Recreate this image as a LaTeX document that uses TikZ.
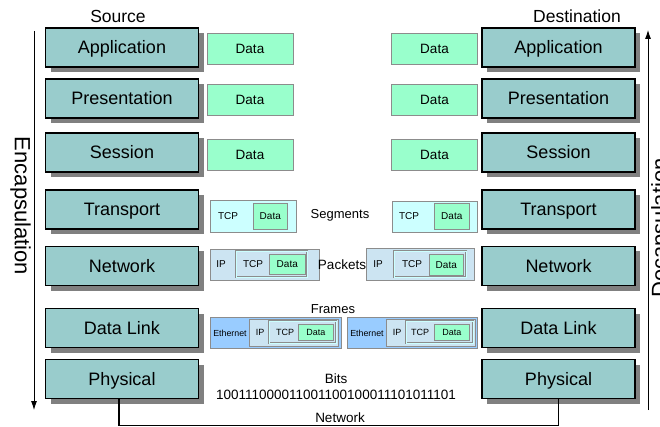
\documentclass[tikz,border=0pt]{standalone}
\usepackage{fontspec}
\setmainfont{Liberation Sans}
\usetikzlibrary{shadows,arrows.meta}
\definecolor{layerfill}{HTML}{99CCCC}
\definecolor{datafill}{HTML}{99FFCC}
\definecolor{segfill}{HTML}{CCFFFF}
\definecolor{pktfill}{HTML}{CCE4F2}
\definecolor{framefill}{HTML}{99CCFF}
\definecolor{bordergray}{HTML}{8C8C8C}
\definecolor{shadowgray}{HTML}{808080}
\newcommand{\fsz}[1]{\fontsize{#1}{#1}\selectfont}
\tikzset{
  layer/.style={draw=black, line width=1.1pt, fill=layerfill, minimum width=153, minimum height=39,
    inner sep=0pt, font=\fsz{18}, text height=13pt, text depth=0pt,
    drop shadow={shadow xshift=5pt, shadow yshift=-5pt, fill=shadowgray, opacity=1}},
  databox/.style={draw=bordergray, line width=0.7pt, fill=datafill, minimum width=86, minimum height=31,
    inner sep=0pt, font=\fsz{13.5}, text height=9.7pt, text depth=0pt},
  pbox/.style={draw=bordergray, line width=0.6pt, inner sep=0pt, anchor=north west},
  dbl/.style={pbox, line width=0.5pt, double=segfill, double distance=0.9pt},
  lbl/.style={inner sep=0pt, font=\fsz{#1}},
  lbl/.default=10,
  arr/.style={line width=0.8pt, -{Latex[length=9pt,width=6pt]}},
  netwire/.style={line width=1.2pt},
  side/.style={inner sep=0pt, font=\fsz{22}, text height=16pt, text depth=4pt},
}
\begin{document}
\begin{tikzpicture}[x=1pt,y=-1pt]
\useasboundingbox (0,0) rectangle (660,427);
% titles
\node[lbl=17.5] (src) at (118,16) {Source};
\node[lbl=17.5] (dst) at (577,16) {Destination};
% left layers
\node[layer] (lapp) at (122,47.5) {Application};
\node[layer] (lpre) at (122,98.5) {Presentation};
\node[layer] (lses) at (122,152.5) {Session};
\node[layer] (ltra) at (122,209.5) {Transport};
\node[layer] (lnet) at (122,266) {Network};
\node[layer] (ldl) at (122,328) {Data Link};
\node[layer] (lphy) at (122,379) {Physical};
% right layers
\node[layer] (rapp) at (558.5,47.5) {Application};
\node[layer] (rpre) at (558.5,98.5) {Presentation};
\node[layer] (rses) at (558.5,152.5) {Session};
\node[layer] (rtra) at (558.5,209.5) {Transport};
\node[layer] (rnet) at (558.5,266) {Network};
\node[layer] (rdl) at (558.5,328) {Data Link};
\node[layer] (rphy) at (558.5,379) {Physical};
% data boxes
\node[databox] (ld1) at (250,48.5) {Data};
\node[databox] (ld2) at (250,100) {Data};
\node[databox] (ld3) at (250,154.5) {Data};
\node[databox] (rd1) at (434.5,48.5) {Data};
\node[databox] (rd2) at (434.5,100) {Data};
\node[databox] (rd3) at (434.5,154.5) {Data};
% segments
\node[pbox, fill=segfill, minimum width=86, minimum height=32] (lseg) at (210,200) {};
\node[lbl] (lsegtcp) at (228,216) {TCP};
\node[pbox, fill=datafill, minimum width=34, minimum height=26] (lsegd) at (253,203) {};
\node[lbl] (lsegdt) at (lsegd.center) {Data};
\node[pbox, fill=segfill, minimum width=85, minimum height=31] (rseg) at (392,201) {};
\node[lbl] (rsegtcp) at (409,216.5) {TCP};
\node[pbox, fill=datafill, minimum width=35, minimum height=26] (rsegd) at (434,203) {};
\node[lbl] (rsegdt) at (rsegd.center) {Data};
\node[lbl=13] (seglbl) at (340,215) {Segments};
% packets
\node[pbox, fill=pktfill, minimum width=109, minimum height=31] (lpkt) at (210,249) {};
\node[lbl] (lpktip) at (221,264.5) {IP};
\node[dbl, minimum width=71, minimum height=26] (lpkttcp) at (236,251) {};
\node[lbl] (lpkttcpt) at (253,264) {TCP};
\node[pbox, fill=datafill, minimum width=36, minimum height=20] (lpktd) at (269,254) {};
\node[lbl] (lpktdt) at (lpktd.center) {Data};
\node[pbox, fill=pktfill, minimum width=108, minimum height=32] (rpkt) at (366,248) {};
\node[lbl] (rpktip) at (378,264) {IP};
\node[dbl, minimum width=72, minimum height=26] (rpkttcp) at (394,251) {};
\node[lbl] (rpkttcpt) at (412,264) {TCP};
\node[pbox, fill=datafill, minimum width=34, minimum height=21] (rpktd) at (429,254) {};
\node[lbl] (rpktdt) at (rpktd.center) {Data};
\node[lbl=13.5] (pktlbl) at (342,265) {Packets};
% frames
\node[lbl=13] (frmlbl) at (333,309) {Frames};
\node[pbox, fill=framefill, minimum width=131, minimum height=31] (lfrm) at (210,317) {};
\node[lbl=8.8] (lfrmeth) at (230,333) {Ethernet};
\node[pbox, fill=pktfill, minimum width=89, minimum height=27] (lfrmip) at (249,319) {};
\node[lbl=9] (lfrmipt) at (260,332) {IP};
\node[dbl, minimum width=67, minimum height=22] (lfrmtcp) at (269,321) {};
\node[lbl=9] (lfrmtcpt) at (285,332) {TCP};
\node[pbox, fill=datafill, minimum width=35, minimum height=16] (lfrmd) at (298,324) {};
\node[lbl=9] (lfrmdt) at (lfrmd.center) {Data};
\node[pbox, fill=framefill, minimum width=130, minimum height=31] (rfrm) at (347,317) {};
\node[lbl=8.8] (rfrmeth) at (367,333) {Ethernet};
\node[pbox, fill=pktfill, minimum width=89, minimum height=27] (rfrmip) at (386,319) {};
\node[lbl=9] (rfrmipt) at (397,332) {IP};
\node[dbl, minimum width=67, minimum height=22] (rfrmtcp) at (406,321) {};
\node[lbl=9] (rfrmtcpt) at (420,332) {TCP};
\node[pbox, fill=datafill, minimum width=35, minimum height=16] (rfrmd) at (434,324) {};
\node[lbl=9] (rfrmdt) at (rfrmd.center) {Data};
% bits
\node[lbl=13.5] (bitslbl) at (336,379) {Bits};
\node[lbl=13.5] (bits) at (336,395) {100111000011001100100011101011101};
% network wire
\coordinate (netY) at (0,425.5);
\draw[netwire] ([xshift=-3pt]lphy.south) |- (rphy.south |- netY) -- (rphy.south);
\node[lbl=13.5] (netlbl) at (340,418) {Network};
% side arrows
\coordinate (encTop) at (34,31);
\coordinate (encBot) at (34,410);
\draw[arr] (encTop) -- (encBot);
\node[side, rotate=-90, anchor=north] (enc) at (31,206) {Encapsulation};
\coordinate (decBot) at (648,410);
\coordinate (decTop) at (648,30);
\draw[arr] (decBot) -- (decTop);
\node[side, rotate=90, anchor=north] (dec) at (651,228) {Decapsulation};
\end{tikzpicture}
\end{document}
